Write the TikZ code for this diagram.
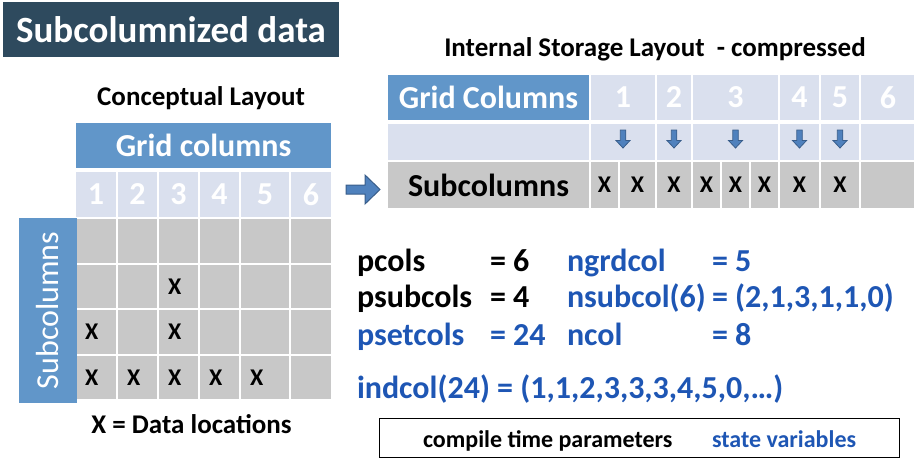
\documentclass[tikz,border=0pt]{standalone}
\usepackage{fontspec}
\setmainfont{Carlito}
\definecolor{titlebg}{RGB}{46,74,94}
\definecolor{hdrblue}{RGB}{97,150,201}
\definecolor{lav}{RGB}{218,224,238}
\definecolor{gry}{RGB}{200,200,200}
\definecolor{txtblue}{RGB}{30,86,180}
\definecolor{arrfill}{RGB}{79,129,189}
\definecolor{arrline}{RGB}{56,93,138}
\newcommand\fs[1]{\fontsize{#1}{#1}\selectfont}
% name, x1, y1, x2, y2, style, text
\newcommand\mycell[7]{\node[#6, minimum width={((#4)-(#2)-2)*1pt}, minimum height={((#5)-(#3)-2)*1pt}] (#1) at ({((#2)+(#4))/2},{((#3)+(#5))/2}) {#7};}
\newcommand\dnarr[1]{\draw[arrstyle] ({#1-2.75},130) -- ({#1+2.75},130) -- ({#1+2.75},140.5) -- ({#1+7},140.5) -- (#1,148) -- ({#1-7},140.5) -- ({#1-2.75},140.5) -- cycle;}
\tikzset{
  hdr/.style={fill=hdrblue, text=white, font=\bfseries\fs{32}},
  lav/.style={fill=lav, text=white, font=\bfseries\fs{32}},
  gry/.style={fill=gry, font=\bfseries\fs{24}},
  xm/.style={font=\bfseries\fs{24}},
  fm/.style={font=\bfseries\fs{32}},
  fmb/.style={font=\bfseries\fs{32}, text=txtblue},
  arrstyle/.style={fill=arrfill, draw=arrline, line width=0.8pt, line join=miter},
}
\begin{document}
\begin{tikzpicture}[x=1pt,y=-1pt, every node/.style={inner sep=0pt, outer sep=0pt}]
\useasboundingbox (0,0) rectangle (914,460);
% title
\node[fill=titlebg, minimum width=336pt, minimum height=55pt, text=white, font=\bfseries\fs{37}] (title) at (171,29.5) {Subcolumnized data};
% ---------- conceptual layout
\node[font=\bfseries\fs{27}, anchor=base] (cl) at (201,106) {Conceptual Layout};
\mycell{gc}{75}{122}{332}{169}{hdr}{Grid columns}
\foreach \i/\a/\b in {1/75/117, 2/117/158, 3/158/199, 4/199/240, 5/240/290, 6/290/332} {
  \mycell{n\i}{\a}{171}{\b}{218}{lav}{\i}
  \foreach \r/\ya/\yb in {1/218/263.5, 2/263.5/309, 3/309/354.5, 4/354.5/400} {
    \mycell{g\r\i}{\a}{\ya}{\b}{\yb}{gry}{}
  }
}
\node[fill=hdrblue, text=white, font=\fs{32}, rotate=90, minimum width=185pt, minimum height=58pt] (subv) at (48,310.5) {Subcolumns};
\node[xm, anchor=west] (x23) at ([xshift=9pt]g23.west) {X};
\node[xm, anchor=west] (x31) at ([xshift=9pt]g31.west) {X};
\node[xm, anchor=west] (x33) at ([xshift=9pt]g33.west) {X};
\foreach \i in {1,...,5} {\node[xm, anchor=west] (x4\i) at ([xshift=9pt]g4\i.west) {X};}
\node[font=\bfseries\fs{27}, anchor=base] (dl) at (191.5,433) {X = Data locations};
% ---------- internal storage
\node[font=\bfseries\fs{27}, anchor=base] (isl) at (655,57) {Internal Storage Layout\ \ - compressed};
\mycell{igc}{387}{74}{590}{121}{hdr}{Grid Columns}
\mycell{ib0}{387}{123}{590}{161}{lav}{}
\mycell{isc}{387}{161}{590}{209}{gry}{\fs{32}Subcolumns}
\foreach \i/\a/\b in {1/590/656, 2/656/692, 3/692/779, 4/779/820, 5/820/860, 6/860/916} {
  \mycell{in\i}{\a}{74}{\b}{121}{lav}{\i}
  \mycell{ib\i}{\a}{123}{\b}{161}{lav}{}
}
\foreach \i/\a/\b in {1/590/619, 2/619/656, 3/656/692, 4/692/721, 5/721/750, 6/750/779, 7/779/820, 8/820/860} {
  \mycell{ix\i}{\a}{161}{\b}{209}{gry}{X}
}
\mycell{ix9}{860}{161}{916}{209}{gry}{}
\dnarr{623}\dnarr{674}\dnarr{735.5}\dnarr{799.5}\dnarr{840}
% big right arrow
\draw[arrstyle, line width=1pt] (346,185) -- (365,185) -- (365,175) -- (380,189.5) -- (365,204) -- (365,194) -- (346,194) -- cycle;
% ---------- formulas
\node[fm, anchor=base west] (pc) at (357,271) {pcols};
\node[fm, anchor=base west] (pcv) at (490,271) {= 6};
\node[fmb, anchor=base west] (ng) at (567,271) {ngrdcol};
\node[fmb, anchor=base west] (ngv) at (712,271) {= 5};
\node[fm, anchor=base west] (ps) at (357,307) {psubcols};
\node[fm, anchor=base west] (psv) at (490,307) {= 4};
\node[fmb, anchor=base west] (ns) at (567,307) {nsubcol(6)};
\node[fmb, anchor=base west] (nsv) at (712,307) {= (2,1,3,1,1,0)};
\node[fmb, anchor=base west] (pt) at (357,345) {psetcols};
\node[fmb, anchor=base west] (ptv) at (490,345) {= 24};
\node[fmb, anchor=base west] (nc) at (567,345) {ncol};
\node[fmb, anchor=base west] (ncv) at (712,345) {= 8};
\node[fmb, anchor=base west] (ic) at (357,398) {indcol(24) = (1,1,2,3,3,3,4,5,0,…)};
% legend box
\node[draw=black, line width=1pt, minimum width=520pt, minimum height=39pt] (leg) at (639,437.5) {};
\node[font=\bfseries\fs{24}, anchor=base west] (ct) at (423,447) {compile time parameters};
\node[font=\bfseries\fs{24}, text=txtblue, anchor=base west] (sv) at (712,447) {state variables};
\end{tikzpicture}
\end{document}
